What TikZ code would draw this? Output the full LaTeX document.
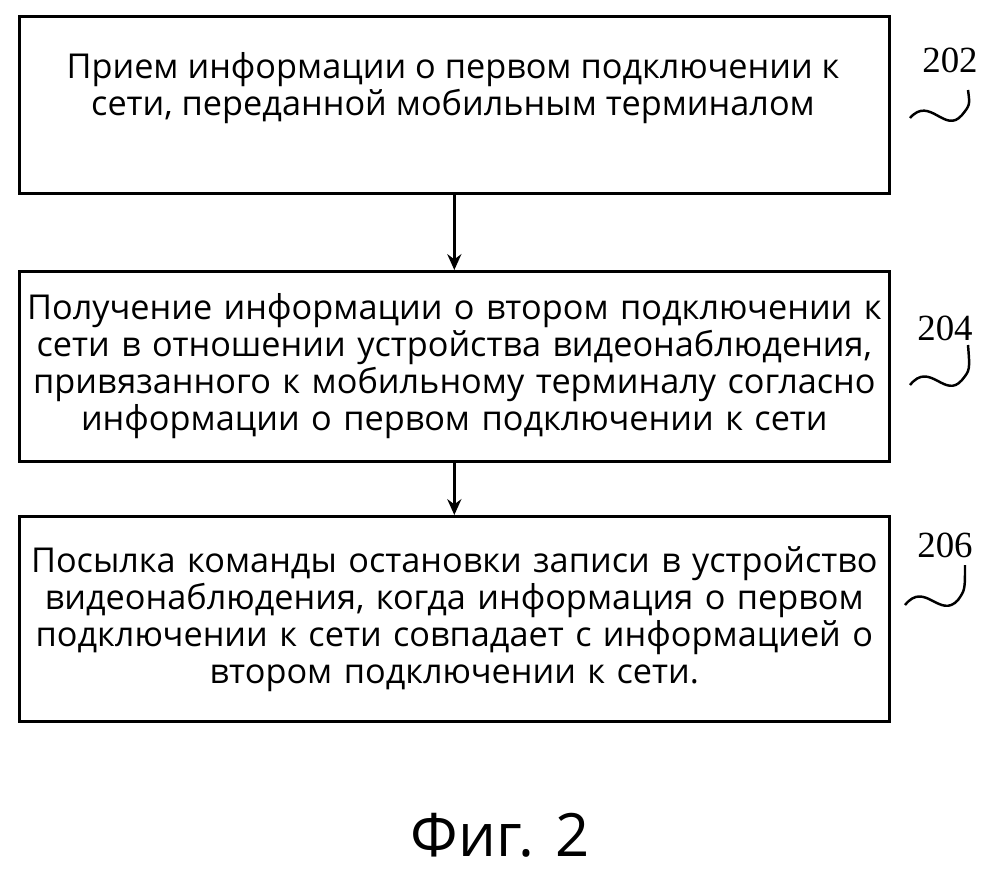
\documentclass[tikz,border=0pt]{standalone}
\usepackage{fontspec}
\setmainfont{Open Sans}
\newfontfamily\numfont{Liberation Serif}
\usetikzlibrary{positioning,arrows.meta}
\tikzset{stepbox/.style={draw, line width=1.6pt, text width=17.4cm, align=center,
		font=\fontsize{19.5}{21}\selectfont, inner sep=0pt},
	flow/.style={-{Stealth[length=9pt,width=8pt]}, line width=1.4pt},
	num/.style={font=\numfont\fontsize{21}{24}\selectfont},
	wave/.style={line width=1.4pt}}
\begin{document}
\begin{tikzpicture}[x=0.02cm,y=-0.02cm]
	\useasboundingbox (0,0) rectangle (1000,880);
	% steps
	\node[stepbox, minimum height=3.54cm, anchor=north west] (s202) at (18,15) {};
	\node at (453,88) [font=\fontsize{19.5}{21}\selectfont, align=center] {Прием информации о первом подключении к\\сети, переданной мобильным терминалом};
	\node[stepbox, minimum height=3.8cm, anchor=north west] (s204) at (18,270) {Получение информации о втором подключении к\\сети в отношении устройства видеонаблюдения,\\привязанного к мобильному терминалу согласно\\информации о первом подключении к сети};
	\node[stepbox, minimum height=4.1cm, anchor=north west] (s206) at (18,515) {Посылка команды остановки записи в устройство\\видеонаблюдения, когда информация о первом\\подключении к сети совпадает с информацией о\\втором подключении к сети.};
	\draw[flow] (s202.south) -- (s204.north);
	\draw[flow] (s204.south) -- (s206.north);
	% labels
	\node[num] (n202) at (950,60) {202};
	\node[num] (n204) at (945,328) {204};
	\node[num] (n206) at (945,545) {206};
	\draw[wave] (910,118) .. controls (930,95) and (945,135) .. (962,115) .. controls (970,105) .. (968,90);
	\draw[wave] (910,385) .. controls (930,360) and (945,400) .. (962,380) .. controls (970,370) .. (968,345);
	\draw[wave] (905,605) .. controls (925,580) and (940,620) .. (958,600) .. controls (965,590) .. (965,565);
	\node[font=\fontsize{34}{40}\selectfont] (fig) at (500,835) {Фиг. 2};
\end{tikzpicture}
\end{document}
